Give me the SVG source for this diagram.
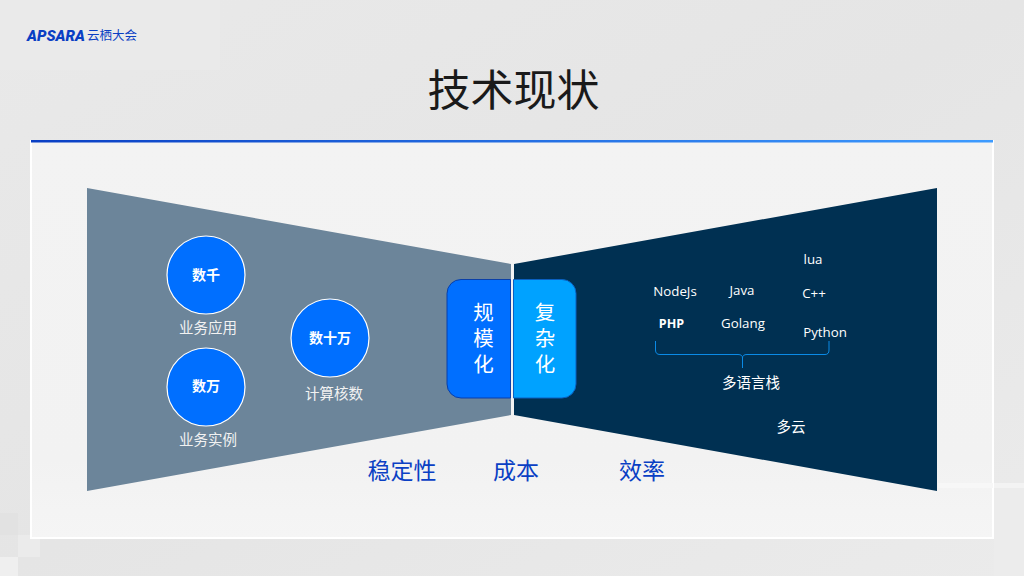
<svg xmlns="http://www.w3.org/2000/svg" width="1024" height="576" viewBox="0 0 1024 576">
<defs>
<linearGradient id="bg" x1="0" y1="0" x2="1" y2="1"><stop offset="0" stop-color="#e9e9e9"/><stop offset="0.5" stop-color="#e5e5e5"/><stop offset="1" stop-color="#ebebeb"/></linearGradient>
<linearGradient id="bar" x1="0" y1="0" x2="1" y2="0"><stop offset="0" stop-color="#0a3fc4"/><stop offset="1" stop-color="#3d9bff"/></linearGradient>
<linearGradient id="pf" x1="0" y1="0" x2="0" y2="1"><stop offset="0" stop-color="#f3f3f3"/><stop offset="0.8" stop-color="#f2f2f2"/><stop offset="1" stop-color="#f5f5f5"/></linearGradient>
</defs>
<style>
text{font-family:"Noto Sans CJK SC","Noto Sans",sans-serif;text-anchor:middle}
.w{fill:#fff;font-size:14.500px}
.e{fill:#fff;font-size:13.300px;font-family:"Open Sans",sans-serif}
.c{fill:#006fff;stroke:#fff;stroke-width:1.200}
.b{fill:#fff;font-size:14px;font-weight:700}
.v{fill:#fff;font-size:20.500px;writing-mode:vertical-rl;letter-spacing:5.800px}
.k{fill:#0a3fc4;font-size:23px}
.l{fill:#f2f2f2;font-size:14.500px}
</style>
<rect width="1024" height="576" fill="url(#bg)"/>
<rect x="0" y="0" width="220" height="70" fill="#eaeaea"/>
<rect x="0" y="513" width="18" height="22" fill="#e2e2e2"/>
<rect x="18" y="535" width="22" height="22" fill="#ebebeb"/>
<rect x="0" y="557" width="18" height="19" fill="#efefef"/>
<rect x="994" y="484" width="30" height="92" fill="#ececec"/>
<rect x="994" y="483" width="30" height="5" fill="#f3f3f3"/>
<g id="logo">
<text x="56" y="41" style="font-family:'Roboto',sans-serif;font-size:15px;font-weight:900;font-style:italic" fill="#0a3fc4" textLength="58" lengthAdjust="spacingAndGlyphs">APSARA</text>
<text x="112" y="40" style="font-size:12.500px" fill="#0a3fc4" textLength="50">云栖大会</text>
</g>
<text id="title" x="513.500" y="106" style="font-size:43px" fill="#1a1a1a">技术现状</text>
<rect id="panel" x="31" y="141" width="962" height="397" fill="url(#pf)" stroke="#fff" stroke-width="2"/>
<rect x="938" y="483" width="55" height="5" fill="#f7f7f7"/>
<rect id="panel-bar" x="31" y="140" width="962" height="2.500" fill="url(#bar)"/>
<polygon id="left-shape" points="87,188 511,264 511,415 87,491" fill="#6c859a"/>
<polygon id="right-shape" points="514,264 937,188 937,491 514,415" fill="#003052"/>
<g id="scale">
<path d="M510.500,279.500H461a14,14 0 0 0 -14,14V384a14,14 0 0 0 14,14H510.500Z" fill="#006fff" stroke="#0a3fa8" stroke-width="1"/>
<text class="v" x="483.500" y="341">规模化</text>
</g>
<g id="complexity">
<path d="M513.500,279.500H562a14,14 0 0 1 14,14V384a14,14 0 0 1 -14,14H513.500Z" fill="#00a2ff" stroke="#0a5fc0" stroke-width="1"/>
<text class="v" x="545" y="341">复杂化</text>
</g>
<g id="n-apps"><circle class="c" cx="206" cy="275" r="39"/><text class="b" x="206" y="280">数千</text><text class="l" x="208" y="333">业务应用</text></g>
<g id="n-inst"><circle class="c" cx="206" cy="387" r="39"/><text class="b" x="206" y="391">数万</text><text class="l" x="208" y="445">业务实例</text></g>
<g id="n-cores"><circle class="c" cx="330" cy="338" r="39"/><text class="b" x="330" y="343">数十万</text><text class="l" x="334" y="399">计算核数</text></g>
<g id="languages">
<text class="e" x="675" y="296">NodeJs</text>
<text class="e" x="742" y="295">Java</text>
<text class="e" x="813" y="264">lua</text>
<text class="e" x="814" y="298">C++</text>
<text class="e" x="671.500" y="328" style="font-weight:700;font-size:12.500px">PHP</text>
<text class="e" x="743" y="328">Golang</text>
<text class="e" x="825" y="337">Python</text>
<text class="w" x="751" y="388">多语言栈</text>
</g>
<g id="connectors"><path d="M655.500,341V350Q655.500,354.500 660,354.500H738Q742.500,354.500 742.500,358V368M742.500,358Q742.500,354.500 747,354.500H825Q829,354.500 829,350V341" fill="none" stroke="#0a8ae6" stroke-width="1"/></g>
<text id="cloud" class="w" x="791" y="432">多云</text>
<g id="bottom-labels"><text class="k" x="402" y="479">稳定性</text><text class="k" x="516" y="479">成本</text><text class="k" x="642" y="479">效率</text></g>
</svg>
